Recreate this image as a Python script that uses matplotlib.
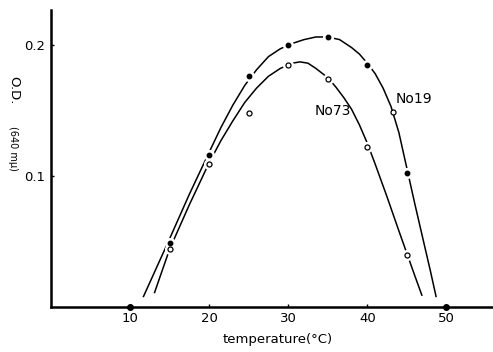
import matplotlib
matplotlib.use("Agg")
import matplotlib.pyplot as plt

# ── data ─────────────────────────────────────────────────────────────────────
temp_pts = [15, 20, 25, 30, 35, 40, 45]
od_no19 = [0.049, 0.116, 0.176, 0.200, 0.206, 0.185, 0.102]
od_no73 = [0.044, 0.109, 0.148, 0.185, 0.174, 0.122, 0.040]

# points sitting on the axis
temp_axis = [10, 50]
od_axis = [0.0, 0.0]

# hand-drawn smooth curves
curve19_t = [11.7, 15, 17.5, 20, 21.5, 23, 24.5, 26, 27.5, 29, 30.5, 32, 33.5, 35,
             36.5, 38, 39, 40, 41, 42, 43, 44, 45, 46, 47, 48, 48.7]
curve19_y = [0.008, 0.052, 0.086, 0.118, 0.137, 0.154, 0.169, 0.181, 0.191, 0.197, 0.201,
             0.204, 0.206, 0.206, 0.204, 0.198, 0.193, 0.186, 0.178, 0.167, 0.153, 0.133,
             0.106, 0.079, 0.053, 0.027, 0.008]

curve73_t = [13.1, 15, 17.5, 20, 21.5, 23, 24.5, 26, 27.5, 29, 30.5, 31.5, 32.5, 33.5,
             35, 36, 37, 38, 39, 40, 41, 42.5, 44, 45, 46, 46.9]
curve73_y = [0.011, 0.044, 0.078, 0.110, 0.127, 0.142, 0.156, 0.167, 0.176, 0.182, 0.186,
             0.187, 0.186, 0.182, 0.175, 0.168, 0.160, 0.151, 0.139, 0.125, 0.109, 0.084,
             0.058, 0.041, 0.024, 0.009]

# open circle used as the pointer of the "No19" label
pointer_t = [43.3]
pointer_y = [0.149]

x_ticks = [10, 20, 30, 40, 50]
y_ticks = [0.1, 0.2]

plt.rcParams["font.family"] = "DejaVu Sans"

fig = plt.figure(figsize=(4.93, 3.52), dpi=100)
ax = fig.add_axes([0.1034, 0.128, 0.8966, 0.844])

ax.plot(curve19_t, curve19_y, color="black", lw=1.1, zorder=2)
ax.plot(curve73_t, curve73_y, color="black", lw=1.1, zorder=2)

# white halo breaks the line around each point, as in the original
ax.plot(temp_pts, od_no19, ls="none", marker="o", ms=7, mfc="white", mec="white", zorder=3)
ax.plot(temp_pts, od_no73, ls="none", marker="o", ms=7, mfc="white", mec="white", zorder=3)
ax.plot(temp_pts, od_no19, ls="none", marker="o", ms=3.2, mfc="black", mec="black", zorder=4)
ax.plot(temp_pts, od_no73, ls="none", marker="o", ms=3.6, mfc="white", mec="black", mew=0.9, zorder=4)
ax.plot(pointer_t, pointer_y, ls="none", marker="o", ms=3.6, mfc="white", mec="black", mew=0.9, zorder=4)
ax.plot(temp_axis, od_axis, ls="none", marker="o", ms=4, mfc="black", mec="black",
        zorder=5, clip_on=False)

ax.text(43.6, 0.1585, "No19", fontsize=10, ha="left", va="center")
ax.text(33.3, 0.1495, "No73", fontsize=10, ha="left", va="center")

ax.set_xlim(0, 55.9)
ax.set_ylim(0, 0.2267)
ax.set_xticks(x_ticks)
ax.set_yticks(y_ticks)
ax.set_yticklabels(["0.2" if v == 0.2 else "0.1" for v in y_ticks])
ax.tick_params(length=2, width=1, direction="in", labelsize=9.5, pad=4)
for s in ["top", "right"]:
    ax.spines[s].set_visible(False)
for s in ["left", "bottom"]:
    ax.spines[s].set_linewidth(1.8)

fig.text(278 / 493, 1 - 340 / 352, "temperature(°C)", ha="center", va="center", fontsize=9.5)
fig.text(14 / 493, 1 - 90 / 352, "O.D.", rotation=-90, ha="center", va="center", fontsize=9.5)
fig.text(13 / 493, 1 - 148 / 352, "(640 mμ)", rotation=-90, ha="center", va="center", fontsize=7)

fig.savefig("out.png", dpi=100)
